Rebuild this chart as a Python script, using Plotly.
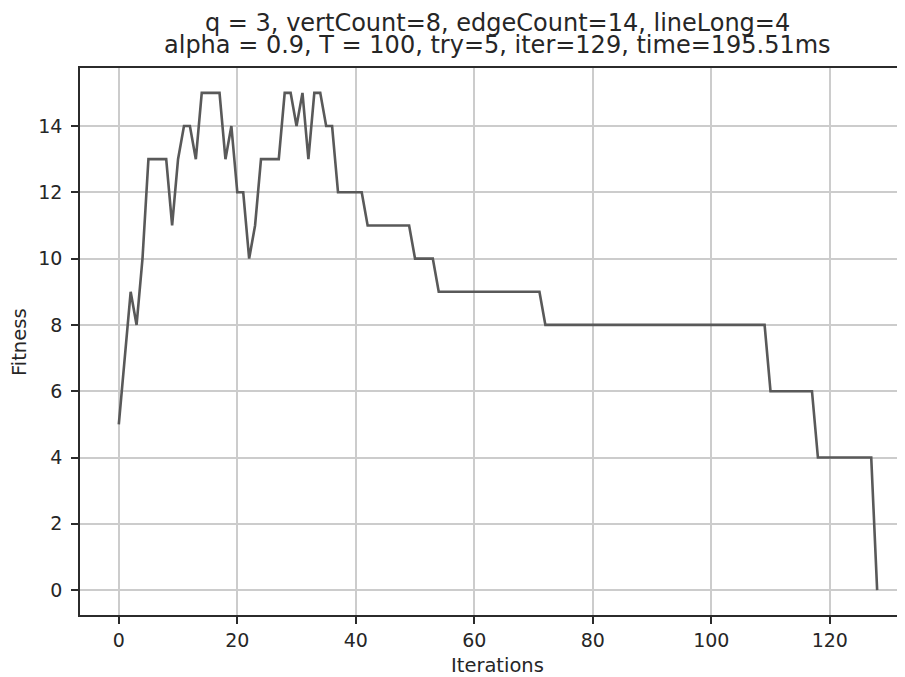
import plotly.graph_objects as go

iterations = list(range(129))
fitness = (
    [5, 7, 9, 8, 10, 13, 13, 13, 13, 11,
     13, 14, 14, 13, 15, 15, 15, 15, 13, 14,
     12, 12, 10, 11, 13, 13, 13, 13, 15, 15,
     14, 15, 13, 15, 15, 14, 14, 12, 12, 12,
     12, 12]
    + [11] * 8
    + [10] * 4
    + [9] * 18
    + [8] * 38
    + [6] * 8
    + [4] * 10
    + [0]
)

x_ticks = [0, 20, 40, 60, 80, 100, 120]
y_ticks = [0, 2, 4, 6, 8, 10, 12, 14]

title_line1 = "q = 3, vertCount=8, edgeCount=14, lineLong=4"
title_line2 = "alpha = 0.9, T = 100, try=5, iter=129, time=195.51ms"
x_label = "Iterations"
y_label = "Fitness"

FONT = "DejaVu Sans"
TXT = "#262626"
# the page body has an 8px margin, so the figure is 8px smaller than the window
W, H = 897, 669
L, R, T, B = 72, 0, 60, 62
plot_h = H - T - B
plot_w = W - L - R


def py_to_paper(py):
    return (H - B - py) / plot_h


def px_to_paper(px):
    return (px - L) / plot_w


fig = go.Figure()
fig.add_trace(go.Scatter(
    x=iterations, y=fitness, mode="lines",
    line=dict(color="#595959", width=2.6),
    hoverinfo="skip", showlegend=False,
))

annotations = [
    dict(text=title_line1, x=px_to_paper(489), y=py_to_paper(14.5),
         font=dict(family=FONT, size=24, color=TXT)),
    dict(text=title_line2, x=px_to_paper(489), y=py_to_paper(37),
         font=dict(family=FONT, size=24, color=TXT)),
    dict(text=x_label, x=px_to_paper(489), y=py_to_paper(657),
         font=dict(family=FONT, size=19.5, color=TXT)),
    dict(text=y_label, x=px_to_paper(11), y=py_to_paper(334), textangle=-90,
         font=dict(family=FONT, size=19.5, color=TXT)),
]
for a in annotations:
    a.update(xref="paper", yref="paper", xanchor="center", yanchor="middle",
             showarrow=False)

fig.update_layout(
    width=W, height=H,
    margin=dict(l=L, r=R, t=T, b=B, autoexpand=False),
    paper_bgcolor="white", plot_bgcolor="white",
    font=dict(family=FONT, color=TXT),
    annotations=annotations,
    xaxis=dict(
        range=[-6.55, 132.7], tickmode="array", tickvals=x_ticks,
        showgrid=True, gridcolor="#cccccc", gridwidth=1.6,
        showline=True, linecolor="#2b2b2b", linewidth=1.6, mirror=True,
        ticks="outside", ticklen=7, tickcolor="#2b2b2b", tickwidth=1.6,
        tickfont=dict(family=FONT, size=19, color=TXT), zeroline=False,
        automargin=False,
    ),
    yaxis=dict(
        range=[-0.75, 15.75], tickmode="array", tickvals=y_ticks,
        showgrid=True, gridcolor="#cccccc", gridwidth=1.6,
        showline=True, linecolor="#2b2b2b", linewidth=1.6, mirror=False,
        ticks="outside", ticklen=7, tickcolor="#2b2b2b", tickwidth=1.6,
        tickfont=dict(family=FONT, size=19, color=TXT), zeroline=False,
        automargin=False, ticklabelstandoff=5,
    ),
)

fig.write_html("out.html")
